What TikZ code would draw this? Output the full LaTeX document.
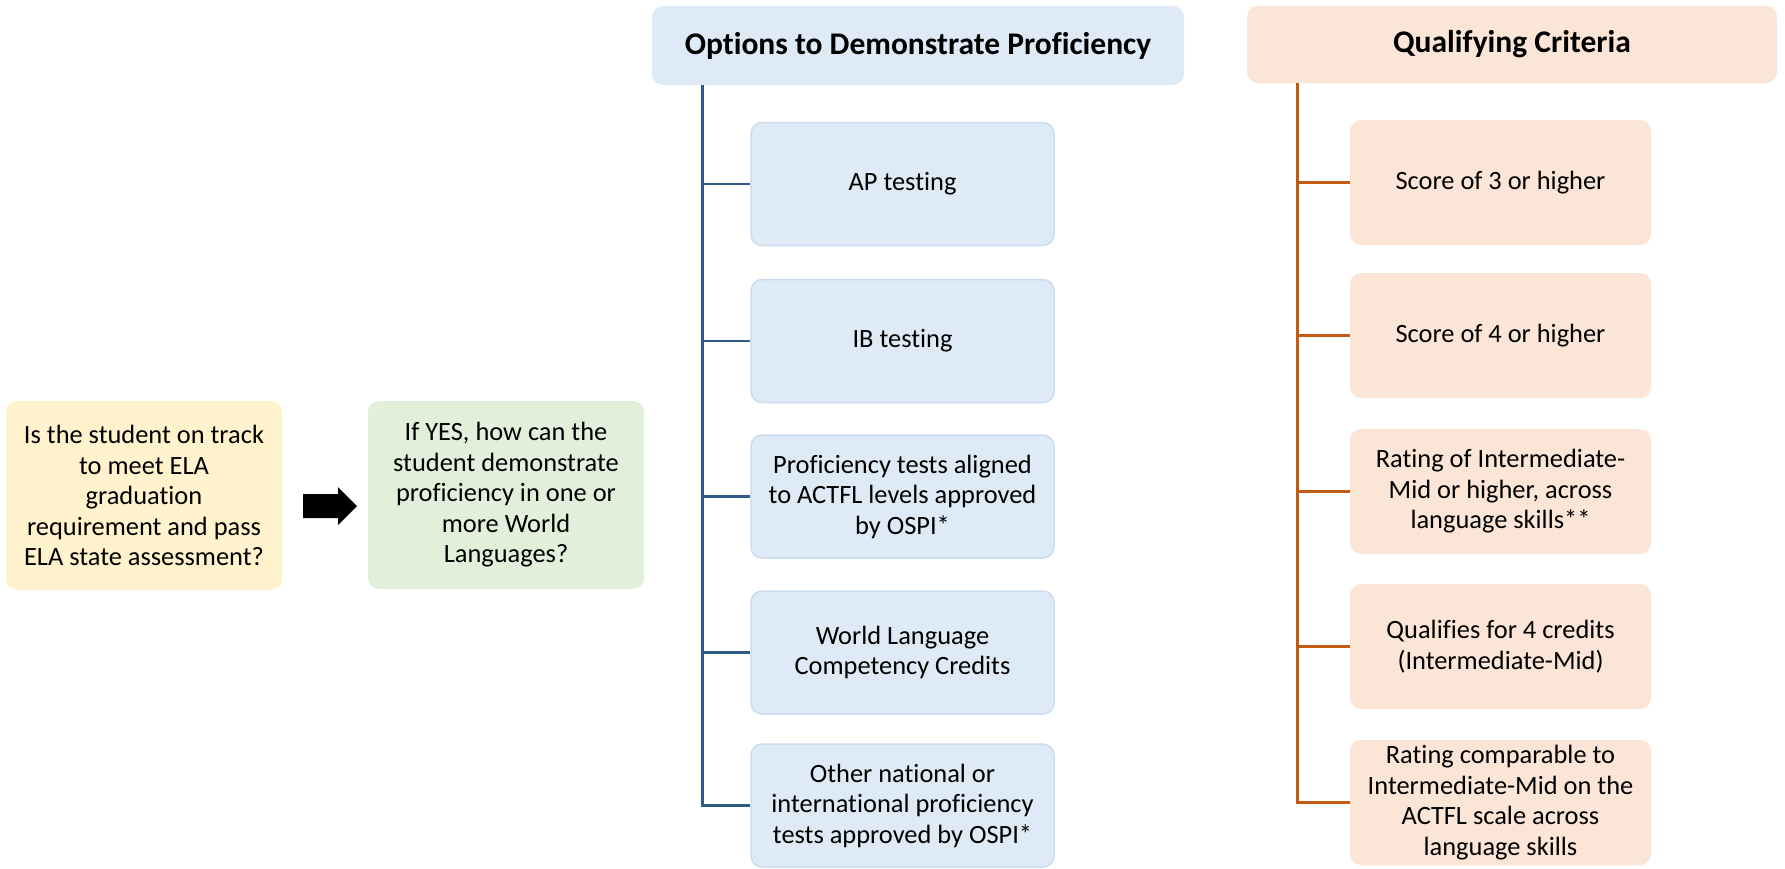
\documentclass[tikz,border=0pt]{standalone}
\usepackage{fontspec}
\setmainfont[Ligatures={NoCommon}]{Carlito}
\definecolor{yel}{HTML}{FFF2CC}
\definecolor{grn}{HTML}{E2EFDA}
\definecolor{blu}{HTML}{DEEAF6}
\definecolor{bluborder}{HTML}{CCDCF0}
\definecolor{org}{HTML}{FBE5D6}
\definecolor{bline}{HTML}{2E5B8A}
\definecolor{oline}{HTML}{C55A11}
\begin{document}
\begin{tikzpicture}[x=1pt,y=-1pt,
  box/.style={rounded corners=11pt, align=center, inner sep=0pt,
    font=\fontsize{26.4}{30.5}\selectfont},
  qbox/.style={box, fill=yel, minimum width=276pt, minimum height=189pt},
  gbox/.style={box, fill=grn, minimum width=276pt, minimum height=188pt},
  bhead/.style={box, fill=blu, minimum width=532pt, minimum height=79pt,
    font=\bfseries\fontsize{31.5}{36}\selectfont},
  ohead/.style={box, fill=org, minimum width=530pt, minimum height=77pt,
    font=\bfseries\fontsize{31.5}{36}\selectfont},
  bbox/.style={box, fill=blu, draw=bluborder, line width=1.5pt, minimum width=303pt, minimum height=123pt},
  obox/.style={box, fill=org, minimum width=301pt, minimum height=125pt},
  bconn/.style={draw=bline, line width=2.8pt},
  oconn/.style={draw=oline, line width=2.8pt}
]
\useasboundingbox (0,0) rectangle (1785,868);

% left question boxes
\node[qbox] (q) at (144,495.5) {Is the student on track\\to meet ELA\\graduation\\requirement and pass\\ELA state assessment?};
\node[gbox] (g) at (506,495) {If YES, how can the\\student demonstrate\\proficiency in one or\\more World\\Languages?};

% block arrow
\coordinate (arr) at (330,506);
\fill[black, shift={(arr)}] (-27,-12) -- (8,-12) -- (8,-19) -- (27,0) -- (8,19) -- (8,12) -- (-27,12) -- cycle;

% headers
\node[bhead] (hb) at (918,45.5) {Options to Demonstrate Proficiency};
\node[ohead] (ho) at (1512,44.5) {Qualifying Criteria};

% blue children
\node[bbox] (b1) at (902.5,184) {AP testing};
\node[bbox] (b2) at (902.5,341) {IB testing};
\node[bbox] (b3) at (902.5,496.5) {Proficiency tests aligned\\to ACTFL levels approved\\by OSPI*};
\node[bbox] (b4) at (902.5,652.5) {World Language\\Competency Credits};
\node[bbox] (b5) at (902.5,805.5) {Other national or\\international proficiency\\tests approved by OSPI*};

% orange children
\node[obox] (o1) at (1500.5,182.5) {Score of 3 or higher};
\node[obox] (o2) at (1500.5,335.5) {Score of 4 or higher};
\node[obox] (o3) at (1500.5,491.5) {Rating of Intermediate-\\Mid or higher, across\\language skills**};
\node[obox] (o4) at (1500.5,646.5) {Qualifies for 4 credits\\(Intermediate-Mid)};
\node[obox] (o5) at (1500.5,802.5) {Rating comparable to\\Intermediate-Mid on the\\ACTFL scale across\\language skills};

% connectors
\coordinate (bt) at ([xshift=51pt]hb.south west);
\coordinate (ot) at ([xshift=51pt]ho.south west);
\draw[bconn] (bt) |- (b5.west);
\foreach \i in {1,2,3,4} { \draw[bconn] (bt |- b\i.west) -- (b\i.west); }
\draw[oconn] (ot) |- (o5.west);
\foreach \i in {1,2,3,4} { \draw[oconn] (ot |- o\i.west) -- (o\i.west); }
\end{tikzpicture}
\end{document}
